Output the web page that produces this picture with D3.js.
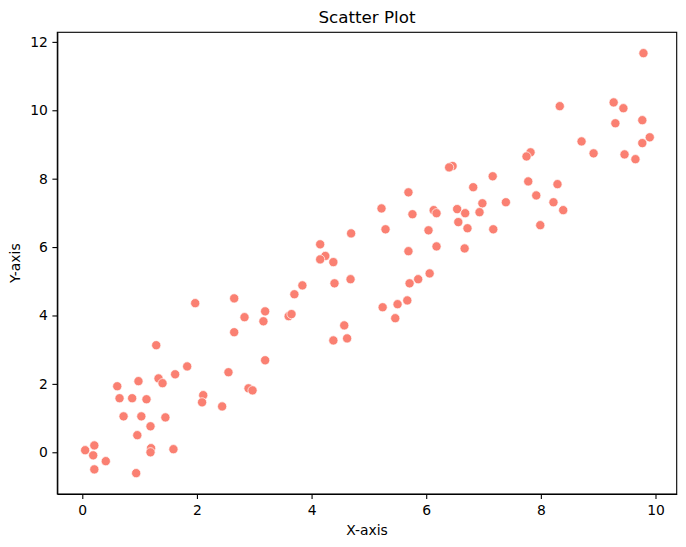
<!DOCTYPE html>
<html>
<head>
<meta charset="utf-8">
<title>Scatter Plot</title>
<script src="https://cdn.jsdelivr.net/npm/d3@7"></script>
<style>
  body { margin: 0; background: #fff; }
  text { font-family: "DejaVu Sans", sans-serif; fill: #000; }
  .axis path, .axis line { stroke: #000; stroke-width: 1.1px; }
  .axis text { font-size: 13.9px; }
</style>
</head>
<body>
<div class="container"></div>
<script>
// values
var xValues = [
  4.69, 4.15, 4.24, 4.15, 4.38,
  9.79, 8.33, 9.27, 9.44, 9.30, 9.77, 9.90, 9.77, 8.71, 8.92, 9.46, 9.65,
  7.82, 7.75, 6.46, 6.40, 7.16, 6.82, 5.69, 7.78, 8.29, 7.92, 8.22, 8.39,
  7.39, 6.98, 6.54, 6.93, 6.68, 6.13, 6.18, 5.22, 5.76, 5.29, 6.04, 6.56,
  6.72, 7.17, 7.99, 5.69, 6.18, 6.67,
  4.40, 4.68, 3.84, 3.70, 1.97, 2.65, 2.83, 3.19, 3.16, 3.60, 3.65, 2.65,
  4.57, 4.38, 4.62, 1.29, 3.19, 2.55, 1.83, 1.62, 1.33, 1.40, 0.98, 0.61,
  0.65, 0.87, 1.12, 0.72, 1.03, 1.45, 1.19, 0.96, 1.20, 1.19, 1.59, 2.11,
  2.09, 2.44, 2.90, 2.97, 0.05, 0.21, 0.19, 0.41, 0.21, 0.94,
  6.06, 5.86, 5.71, 5.67, 5.50, 5.24, 5.46
];
var yValues = [
  6.40, 6.08, 5.74, 5.64, 5.56,
  11.67, 10.12, 10.23, 10.06, 9.62, 9.71, 9.21, 9.04, 9.09, 8.74, 8.71, 8.57,
  8.77, 8.65, 8.37, 8.33, 8.07, 7.75, 7.60, 7.92, 7.84, 7.51, 7.31, 7.08,
  7.31, 7.28, 7.11, 7.02, 6.99, 7.08, 6.99, 7.13, 6.96, 6.52, 6.49, 6.73,
  6.55, 6.52, 6.64, 5.88, 6.02, 5.96,
  4.94, 5.06, 4.88, 4.62, 4.36, 4.50, 3.95, 4.12, 3.83, 3.98, 4.04, 3.51,
  3.71, 3.27, 3.33, 3.13, 2.69, 2.34, 2.51, 2.28, 2.16, 2.02, 2.08, 1.93,
  1.58, 1.58, 1.55, 1.05, 1.05, 1.02, 0.76, 0.50, 0.12, 0.00, 0.09, 1.67,
  1.46, 1.34, 1.87, 1.81, 0.06, 0.20, -0.09, -0.26, -0.50, -0.61,
  5.23, 5.06, 4.94, 4.44, 4.33, 4.24, 3.92
];
var xTicks = [0, 2, 4, 6, 8, 10];
var yTicks = [0, 2, 4, 6, 8, 10, 12];

var points = xValues.map(function(x, i) { return [x, yValues[i]]; });

var svgWidth = 686, svgHeight = 547;
var margin = {top: 32.3, right: 9.3, bottom: 53, left: 57.3};
var width = svgWidth - margin.left - margin.right;
var height = svgHeight - margin.top - margin.bottom;

var svg = d3.select('.container')
  .append('svg')
  .attr('width', svgWidth)
  .attr('height', svgHeight);

var g = svg.append('g')
  .attr('transform', `translate(${margin.left},${margin.top})`);

var x = d3.scaleLinear()
  .domain([-0.436, 10.37])
  .range([0, width]);

var y = d3.scaleLinear()
  .domain([-1.22, 12.28])
  .range([height, 0]);

g.append('g')
  .attr('class', 'axis')
  .attr('transform', `translate(0,${height})`)
  .call(d3.axisBottom(x).tickValues(xTicks).tickSize(4.9).tickPadding(6).tickSizeOuter(0));

g.append('g')
  .attr('class', 'axis')
  .call(d3.axisLeft(y).tickValues(yTicks).tickSize(4.9).tickPadding(4.5).tickSizeOuter(0));

// frame
g.append('rect')
  .attr('width', width)
  .attr('height', height)
  .attr('fill', 'none')
  .attr('stroke', '#000')
  .attr('stroke-width', 1.1);

g.append('g')
  .selectAll('circle')
  .data(points)
  .enter()
  .append('circle')
  .attr('cx', d => x(d[0]))
  .attr('cy', d => y(d[1]))
  .attr('r', 4.6)
  .attr('fill', '#fa8072')
  .attr('stroke', '#fff')
  .attr('stroke-width', 0.7);

svg.append('text')
  .attr('x', margin.left + width / 2)
  .attr('y', 22.8)
  .attr('text-anchor', 'middle')
  .attr('font-size', 16.7)
  .text('Scatter Plot');

svg.append('text')
  .attr('x', margin.left + width / 2)
  .attr('y', 535)
  .attr('text-anchor', 'middle')
  .attr('font-size', 13.9)
  .text('X-axis');

svg.append('text')
  .attr('transform', `translate(20,${margin.top + height / 2}) rotate(-90)`)
  .attr('text-anchor', 'middle')
  .attr('font-size', 13.9)
  .text('Y-axis');
</script>
</body>
</html>
